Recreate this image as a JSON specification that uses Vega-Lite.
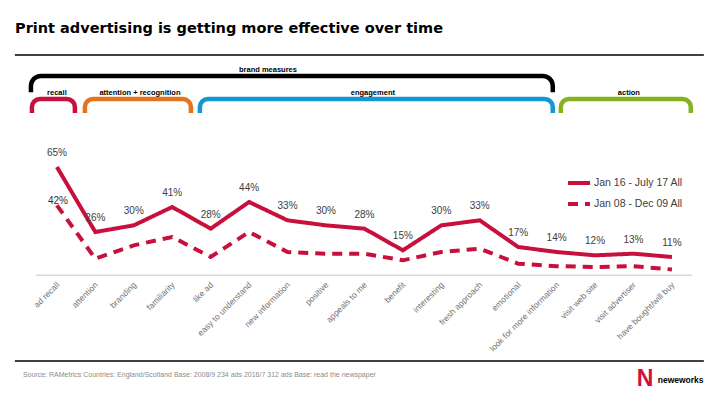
{
  "$schema": "https://vega.github.io/schema/vega-lite/v6.json",
  "width": 665,
  "height": 306,
  "autosize": {"type": "none"},
  "padding": {"left": 30, "top": 55, "right": 25, "bottom": 44},
  "background": "white",
  "title": {
    "text": "Print advertising is getting more effective over time",
    "font": "DejaVu Sans",
    "fontSize": 14.5,
    "fontWeight": "bold",
    "color": "black",
    "anchor": "start",
    "frame": "group",
    "orient": "top",
    "baseline": "alphabetic",
    "offset": 22,
    "dx": -15,
    "dy": 15
  },
  "config": {
    "view": {"stroke": null},
    "font": "Liberation Sans",
    "legend": {
      "orient": "none",
      "legendX": 536,
      "legendY": 115,
      "title": null,
      "symbolType": "stroke",
      "symbolSize": 484,
      "symbolStrokeWidth": 4,
      "symbolStrokeColor": "#C8103C",
      "labelFont": "Liberation Sans",
      "labelFontSize": 10.5,
      "labelColor": "#404040",
      "labelOffset": 2,
      "rowPadding": 0,
      "padding": 0
    }
  },
  "datasets": {
    "lines": [
      {"measure": "ad recall", "idx": 0, "period": "Jan 16 - July 17 All", "value": 0.65},
      {"measure": "attention", "idx": 1, "period": "Jan 16 - July 17 All", "value": 0.26},
      {"measure": "branding", "idx": 2, "period": "Jan 16 - July 17 All", "value": 0.30},
      {"measure": "familiarity", "idx": 3, "period": "Jan 16 - July 17 All", "value": 0.41},
      {"measure": "like ad", "idx": 4, "period": "Jan 16 - July 17 All", "value": 0.28},
      {"measure": "easy to understand", "idx": 5, "period": "Jan 16 - July 17 All", "value": 0.44},
      {"measure": "new information", "idx": 6, "period": "Jan 16 - July 17 All", "value": 0.33},
      {"measure": "positive", "idx": 7, "period": "Jan 16 - July 17 All", "value": 0.30},
      {"measure": "appeals to me", "idx": 8, "period": "Jan 16 - July 17 All", "value": 0.28},
      {"measure": "benefit", "idx": 9, "period": "Jan 16 - July 17 All", "value": 0.15},
      {"measure": "interesting", "idx": 10, "period": "Jan 16 - July 17 All", "value": 0.30},
      {"measure": "fresh approach", "idx": 11, "period": "Jan 16 - July 17 All", "value": 0.33},
      {"measure": "emotional", "idx": 12, "period": "Jan 16 - July 17 All", "value": 0.17},
      {"measure": "look for more information", "idx": 13, "period": "Jan 16 - July 17 All", "value": 0.14},
      {"measure": "visit web site", "idx": 14, "period": "Jan 16 - July 17 All", "value": 0.12},
      {"measure": "visit advertiser", "idx": 15, "period": "Jan 16 - July 17 All", "value": 0.13},
      {"measure": "have bought/will buy", "idx": 16, "period": "Jan 16 - July 17 All", "value": 0.11},
      {"measure": "ad recall", "idx": 0, "period": "Jan 08 - Dec 09 All", "value": 0.42},
      {"measure": "attention", "idx": 1, "period": "Jan 08 - Dec 09 All", "value": 0.10},
      {"measure": "branding", "idx": 2, "period": "Jan 08 - Dec 09 All", "value": 0.18},
      {"measure": "familiarity", "idx": 3, "period": "Jan 08 - Dec 09 All", "value": 0.23},
      {"measure": "like ad", "idx": 4, "period": "Jan 08 - Dec 09 All", "value": 0.11},
      {"measure": "easy to understand", "idx": 5, "period": "Jan 08 - Dec 09 All", "value": 0.26},
      {"measure": "new information", "idx": 6, "period": "Jan 08 - Dec 09 All", "value": 0.14},
      {"measure": "positive", "idx": 7, "period": "Jan 08 - Dec 09 All", "value": 0.13},
      {"measure": "appeals to me", "idx": 8, "period": "Jan 08 - Dec 09 All", "value": 0.13},
      {"measure": "benefit", "idx": 9, "period": "Jan 08 - Dec 09 All", "value": 0.09},
      {"measure": "interesting", "idx": 10, "period": "Jan 08 - Dec 09 All", "value": 0.14},
      {"measure": "fresh approach", "idx": 11, "period": "Jan 08 - Dec 09 All", "value": 0.16},
      {"measure": "emotional", "idx": 12, "period": "Jan 08 - Dec 09 All", "value": 0.07},
      {"measure": "look for more information", "idx": 13, "period": "Jan 08 - Dec 09 All", "value": 0.055},
      {"measure": "visit web site", "idx": 14, "period": "Jan 08 - Dec 09 All", "value": 0.05},
      {"measure": "visit advertiser", "idx": 15, "period": "Jan 08 - Dec 09 All", "value": 0.055},
      {"measure": "have bought/will buy", "idx": 16, "period": "Jan 08 - Dec 09 All", "value": 0.035}
    ],
    "brackets": [
      {"group": "brand measures", "start": -0.676, "end": 12.9, "mid": 5.49},
      {"group": "recall", "start": -0.65, "end": 0.468, "mid": 0.0},
      {"group": "attention + recognition", "start": 0.728, "end": 3.486, "mid": 2.16},
      {"group": "engagement", "start": 3.72, "end": 12.9, "mid": 8.22},
      {"group": "action", "start": 13.11, "end": 16.49, "mid": 14.88}
    ]
  },
  "layer": [
    {
      "data": {"values": [{}]},
      "mark": {"type": "rule", "color": "black", "strokeWidth": 1.5},
      "encoding": {
        "x": {"datum": -1.093, "type": "quantitative", "scale": {"domain": [-0.7, 16.6], "nice": false, "zero": false}, "axis": null},
        "x2": {"datum": 16.83},
        "y": {"datum": 1.322, "type": "quantitative", "scale": {"domain": [-0.514, 1.322], "nice": false, "zero": false}, "axis": null}
      }
    },
    {
      "data": {"values": [{}]},
      "mark": {"type": "rule", "color": "black", "strokeWidth": 1.5},
      "encoding": {
        "x": {"datum": -1.093, "type": "quantitative"},
        "x2": {"datum": 16.83},
        "y": {"datum": -0.514, "type": "quantitative"}
      }
    },
    {
      "data": {"name": "brackets"},
      "transform": [{"filter": "datum.group === 'brand measures'"}],
      "mark": {"type": "rect", "filled": false, "stroke": "black", "strokeWidth": 4.5, "cornerRadius": 10},
      "encoding": {
        "x": {"field": "start", "type": "quantitative"},
        "x2": {"field": "end"},
        "y": {"datum": 1.196, "type": "quantitative"},
        "y2": {"datum": 1.0}
      }
    },
    {
      "data": {"values": [{}]},
      "mark": {"type": "rect", "fill": "white", "strokeWidth": 0},
      "encoding": {
        "x": {"datum": -1.2, "type": "quantitative"},
        "x2": {"datum": 17.0},
        "y": {"datum": 1.099, "type": "quantitative"},
        "y2": {"datum": 0.982}
      }
    },
    {
      "data": {"name": "brackets"},
      "transform": [{"filter": "datum.group !== 'brand measures'"}],
      "mark": {"type": "rect", "filled": false, "strokeWidth": 4.5, "cornerRadius": 8},
      "encoding": {
        "x": {"field": "start", "type": "quantitative"},
        "x2": {"field": "end"},
        "y": {"datum": 1.058, "type": "quantitative"},
        "y2": {"datum": 0.902},
        "stroke": {
          "field": "group",
          "type": "nominal",
          "scale": {"domain": ["recall", "attention + recognition", "engagement", "action"], "range": ["#C8103C", "#E5741F", "#1497D3", "#84B31E"]},
          "legend": null
        }
      }
    },
    {
      "data": {"values": [{}]},
      "mark": {"type": "rect", "fill": "white", "strokeWidth": 0},
      "encoding": {
        "x": {"datum": -1.2, "type": "quantitative"},
        "x2": {"datum": 17.0},
        "y": {"datum": 0.974, "type": "quantitative"},
        "y2": {"datum": 0.842}
      }
    },
    {
      "data": {"name": "brackets"},
      "transform": [{"filter": "datum.group === 'brand measures'"}],
      "mark": {"type": "text", "font": "Liberation Sans", "fontSize": 7.5, "fontWeight": "bold", "color": "black", "baseline": "middle", "align": "center"},
      "encoding": {
        "x": {"field": "mid", "type": "quantitative"},
        "y": {"datum": 1.232, "type": "quantitative"},
        "text": {"field": "group"}
      }
    },
    {
      "data": {"name": "brackets"},
      "transform": [{"filter": "datum.group !== 'brand measures'"}],
      "mark": {"type": "text", "font": "Liberation Sans", "fontSize": 7.5, "fontWeight": "bold", "color": "black", "baseline": "middle", "align": "center"},
      "encoding": {
        "x": {"field": "mid", "type": "quantitative"},
        "y": {"datum": 1.094, "type": "quantitative"},
        "text": {"field": "group"}
      }
    },
    {
      "data": {"values": [{}]},
      "mark": {"type": "rule", "color": "#D9D9D9", "strokeWidth": 1.5},
      "encoding": {
        "x": {"datum": -0.546, "type": "quantitative"},
        "x2": {"datum": 16.52},
        "y": {"datum": 0, "type": "quantitative"}
      }
    },
    {
      "data": {"name": "lines"},
      "mark": {"type": "line", "strokeWidth": 4, "color": "#C8103C"},
      "encoding": {
        "x": {"field": "idx", "type": "quantitative"},
        "y": {"field": "value", "type": "quantitative"},
        "detail": {"field": "period"},
        "strokeDash": {
          "field": "period",
          "type": "nominal",
          "scale": {"domain": ["Jan 16 - July 17 All", "Jan 08 - Dec 09 All"], "range": [[1, 0], [10, 7]]},
          "legend": {}
        }
      }
    },
    {
      "data": {"name": "lines"},
      "transform": [{"filter": "datum.period === 'Jan 16 - July 17 All'"}],
      "mark": {"type": "text", "fontSize": 10, "color": "#404040", "baseline": "middle", "align": "center", "yOffset": -14},
      "encoding": {
        "x": {"field": "idx", "type": "quantitative"},
        "y": {"field": "value", "type": "quantitative"},
        "text": {"field": "value", "type": "quantitative", "format": ".0%"}
      }
    },
    {
      "data": {"name": "lines"},
      "transform": [{"filter": "datum.period === 'Jan 08 - Dec 09 All' && datum.idx === 0"}],
      "mark": {"type": "text", "fontSize": 10, "color": "#303030", "baseline": "middle", "align": "center", "yOffset": -4, "xOffset": 1},
      "encoding": {
        "x": {"field": "idx", "type": "quantitative"},
        "y": {"field": "value", "type": "quantitative"},
        "text": {"field": "value", "type": "quantitative", "format": ".0%"}
      }
    },
    {
      "data": {"name": "lines"},
      "transform": [{"filter": "datum.period === 'Jan 16 - July 17 All'"}],
      "mark": {"type": "text", "fontSize": 8.5, "color": "#737373", "angle": 315, "align": "right", "baseline": "middle", "yOffset": 8, "xOffset": 1},
      "encoding": {
        "x": {"field": "idx", "type": "quantitative"},
        "y": {"datum": 0, "type": "quantitative"},
        "text": {"field": "measure"}
      }
    },
    {
      "data": {"values": [{"source": "Source: RAMetrics  Countries: England/Scotland  Base: 2008/9 234 ads  2016/7 312 ads  Base: read the newspaper"}]},
      "mark": {"type": "text", "fontSize": 7, "color": "#8C8C8C", "align": "left", "baseline": "middle"},
      "encoding": {
        "x": {"datum": -0.884, "type": "quantitative"},
        "y": {"datum": -0.598, "type": "quantitative"},
        "text": {"field": "source"}
      }
    },
    {
      "data": {"values": [{"logo": "N"}]},
      "mark": {"type": "text", "font": "Liberation Sans", "fontSize": 23, "fontWeight": "bold", "color": "#D0103A", "align": "center", "baseline": "middle"},
      "encoding": {
        "x": {"datum": 15.3, "type": "quantitative"},
        "y": {"datum": -0.622, "type": "quantitative"},
        "text": {"field": "logo"}
      }
    },
    {
      "data": {"values": [{"brand": "neweworks"}]},
      "mark": {"type": "text", "font": "Liberation Sans", "fontSize": 8.5, "fontWeight": "bold", "color": "black", "align": "left", "baseline": "middle"},
      "encoding": {
        "x": {"datum": 15.63, "type": "quantitative"},
        "y": {"datum": -0.63, "type": "quantitative"},
        "text": {"field": "brand"}
      }
    }
  ]
}
